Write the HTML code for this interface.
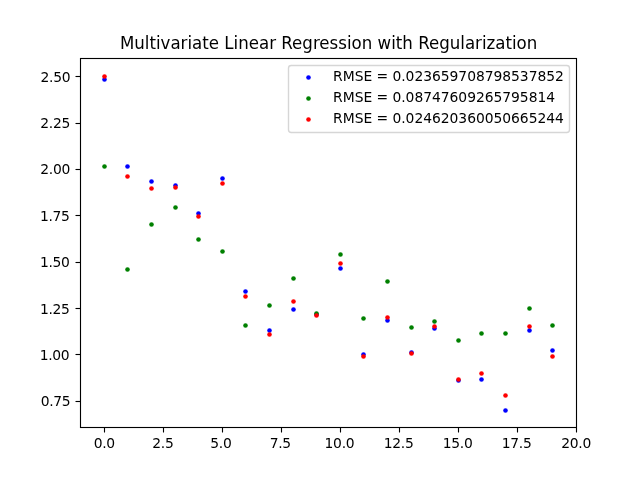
<!DOCTYPE html>
<html lang="en"><head><meta charset="utf-8"><title>Multivariate Linear Regression with Regularization</title>
<style>html,body{margin:0;padding:0;background:#fff;}body{width:640px;height:480px;overflow:hidden;}svg{display:block;}</style>
</head><body>
<svg width="640" height="480" viewBox="0 0 640 480">
<rect width="640" height="480" fill="#fff"/>
<g fill="#0000ff">
<circle cx="104.5" cy="79.5" r="2.28"/>
<circle cx="127.5" cy="166.5" r="2.28"/>
<circle cx="151.5" cy="181.5" r="2.28"/>
<circle cx="175.5" cy="185.5" r="2.28"/>
<circle cx="198.5" cy="213.5" r="2.28"/>
<circle cx="222.5" cy="178.5" r="2.28"/>
<circle cx="245.5" cy="291.5" r="2.28"/>
<circle cx="269.5" cy="330.5" r="2.28"/>
<circle cx="293.5" cy="309.5" r="2.28"/>
<circle cx="316.5" cy="314.5" r="2.28"/>
<circle cx="340.5" cy="268.5" r="2.28"/>
<circle cx="363.5" cy="354.5" r="2.28"/>
<circle cx="387.5" cy="320.5" r="2.28"/>
<circle cx="411.5" cy="352.5" r="2.28"/>
<circle cx="434.5" cy="328.5" r="2.28"/>
<circle cx="458.5" cy="380.5" r="2.28"/>
<circle cx="481.5" cy="379.5" r="2.28"/>
<circle cx="505.5" cy="410.5" r="2.28"/>
<circle cx="529.5" cy="330.5" r="2.28"/>
<circle cx="552.5" cy="350.5" r="2.28"/>
</g>
<g fill="#008000">
<circle cx="104.5" cy="166.5" r="2.28"/>
<circle cx="127.5" cy="269.5" r="2.28"/>
<circle cx="151.5" cy="224.5" r="2.28"/>
<circle cx="175.5" cy="207.5" r="2.28"/>
<circle cx="198.5" cy="239.5" r="2.28"/>
<circle cx="222.5" cy="251.5" r="2.28"/>
<circle cx="245.5" cy="325.5" r="2.28"/>
<circle cx="269.5" cy="305.5" r="2.28"/>
<circle cx="293.5" cy="278.5" r="2.28"/>
<circle cx="316.5" cy="313.5" r="2.28"/>
<circle cx="340.5" cy="254.5" r="2.28"/>
<circle cx="363.5" cy="318.5" r="2.28"/>
<circle cx="387.5" cy="281.5" r="2.28"/>
<circle cx="411.5" cy="327.5" r="2.28"/>
<circle cx="434.5" cy="321.5" r="2.28"/>
<circle cx="458.5" cy="340.5" r="2.28"/>
<circle cx="481.5" cy="333.5" r="2.28"/>
<circle cx="505.5" cy="333.5" r="2.28"/>
<circle cx="529.5" cy="308.5" r="2.28"/>
<circle cx="552.5" cy="325.5" r="2.28"/>
</g>
<g fill="#ff0000">
<circle cx="104.5" cy="76.5" r="2.28"/>
<circle cx="127.5" cy="176.5" r="2.28"/>
<circle cx="151.5" cy="188.5" r="2.28"/>
<circle cx="175.5" cy="187.5" r="2.28"/>
<circle cx="198.5" cy="216.5" r="2.28"/>
<circle cx="222.5" cy="183.5" r="2.28"/>
<circle cx="245.5" cy="296.5" r="2.28"/>
<circle cx="269.5" cy="334.5" r="2.28"/>
<circle cx="293.5" cy="301.5" r="2.28"/>
<circle cx="316.5" cy="315.5" r="2.28"/>
<circle cx="340.5" cy="263.5" r="2.28"/>
<circle cx="363.5" cy="356.5" r="2.28"/>
<circle cx="387.5" cy="317.5" r="2.28"/>
<circle cx="411.5" cy="353.5" r="2.28"/>
<circle cx="434.5" cy="326.5" r="2.28"/>
<circle cx="458.5" cy="379.5" r="2.28"/>
<circle cx="481.5" cy="373.5" r="2.28"/>
<circle cx="505.5" cy="395.5" r="2.28"/>
<circle cx="529.5" cy="326.5" r="2.28"/>
<circle cx="552.5" cy="356.5" r="2.28"/>
</g>
<g stroke="#000" stroke-width="1.11" fill="none">
<path d="M104.5 427.5v5.00"/>
<path d="M163.5 427.5v5.00"/>
<path d="M222.5 427.5v5.00"/>
<path d="M281.5 427.5v5.00"/>
<path d="M340.5 427.5v5.00"/>
<path d="M399.5 427.5v5.00"/>
<path d="M458.5 427.5v5.00"/>
<path d="M517.5 427.5v5.00"/>
<path d="M576.5 427.5v5.00"/>
<path d="M80.5 76.5h-5.00"/>
<path d="M80.5 123.5h-5.00"/>
<path d="M80.5 169.5h-5.00"/>
<path d="M80.5 215.5h-5.00"/>
<path d="M80.5 262.5h-5.00"/>
<path d="M80.5 308.5h-5.00"/>
<path d="M80.5 354.5h-5.00"/>
<path d="M80.5 401.5h-5.00"/>
<rect x="80.5" y="58.5" width="496" height="369"/>
</g>
<g font-family="'DejaVu Sans', 'Liberation Sans', sans-serif" fill="#000">
<text x="104.24" y="448.00" text-anchor="middle" letter-spacing="-0.300" font-size="13.89px">0.0</text>
<text x="162.92" y="448.00" text-anchor="middle" letter-spacing="-0.300" font-size="13.89px">2.5</text>
<text x="220.84" y="448.00" text-anchor="middle" letter-spacing="-0.300" font-size="13.89px">5.0</text>
<text x="280.26" y="448.00" text-anchor="middle" letter-spacing="-0.300" font-size="13.89px">7.5</text>
<text x="339.43" y="448.00" text-anchor="middle" letter-spacing="-0.300" font-size="13.89px">10.0</text>
<text x="398.61" y="448.00" text-anchor="middle" letter-spacing="-0.300" font-size="13.89px">12.5</text>
<text x="457.65" y="448.00" text-anchor="middle" letter-spacing="-0.300" font-size="13.89px">15.0</text>
<text x="516.58" y="448.00" text-anchor="middle" letter-spacing="-0.300" font-size="13.89px">17.5</text>
<text x="576.12" y="448.00" text-anchor="middle" letter-spacing="-0.300" font-size="13.89px">20.0</text>
<text x="70.25" y="82.00" text-anchor="end" letter-spacing="-0.300" font-size="13.89px">2.50</text>
<text x="70.00" y="128.00" text-anchor="end" letter-spacing="-0.300" font-size="13.89px">2.25</text>
<text x="70.00" y="174.00" text-anchor="end" letter-spacing="-0.300" font-size="13.89px">2.00</text>
<text x="69.62" y="221.00" text-anchor="end" letter-spacing="-0.300" font-size="13.89px">1.75</text>
<text x="69.62" y="267.00" text-anchor="end" letter-spacing="-0.300" font-size="13.89px">1.50</text>
<text x="69.62" y="314.00" text-anchor="end" letter-spacing="-0.300" font-size="13.89px">1.25</text>
<text x="69.38" y="360.00" text-anchor="end" letter-spacing="-0.300" font-size="13.89px">1.00</text>
<text x="70.38" y="406.00" text-anchor="end" letter-spacing="-0.300" font-size="13.89px">0.75</text>
<text transform="translate(328.62 49.00) scale(1 1.060)" text-anchor="middle" font-size="16.65px">Multivariate Linear Regression with Regularization</text>
</g>
<rect x="288.50" y="65.50" width="281.00" height="67.00" rx="2.80" ry="2.80" fill="#fff" fill-opacity="0.8" stroke="#ccc" stroke-opacity="0.8" stroke-width="1.39"/>
<g font-family="'DejaVu Sans', 'Liberation Sans', sans-serif" fill="#000">
<circle cx="308.50" cy="77.50" r="2.28" fill="#0000ff"/>
<text x="333.12" y="81.10" letter-spacing="-0.040" font-size="13.89px">RMSE = 0.023659708798537852</text>
<circle cx="308.50" cy="98.50" r="2.28" fill="#008000"/>
<text x="333.12" y="102.10" letter-spacing="-0.040" font-size="13.89px">RMSE = 0.08747609265795814</text>
<circle cx="308.50" cy="119.50" r="2.28" fill="#ff0000"/>
<text x="333.12" y="123.10" letter-spacing="-0.040" font-size="13.89px">RMSE = 0.024620360050665244</text>
</g>
</svg>
</body></html>
